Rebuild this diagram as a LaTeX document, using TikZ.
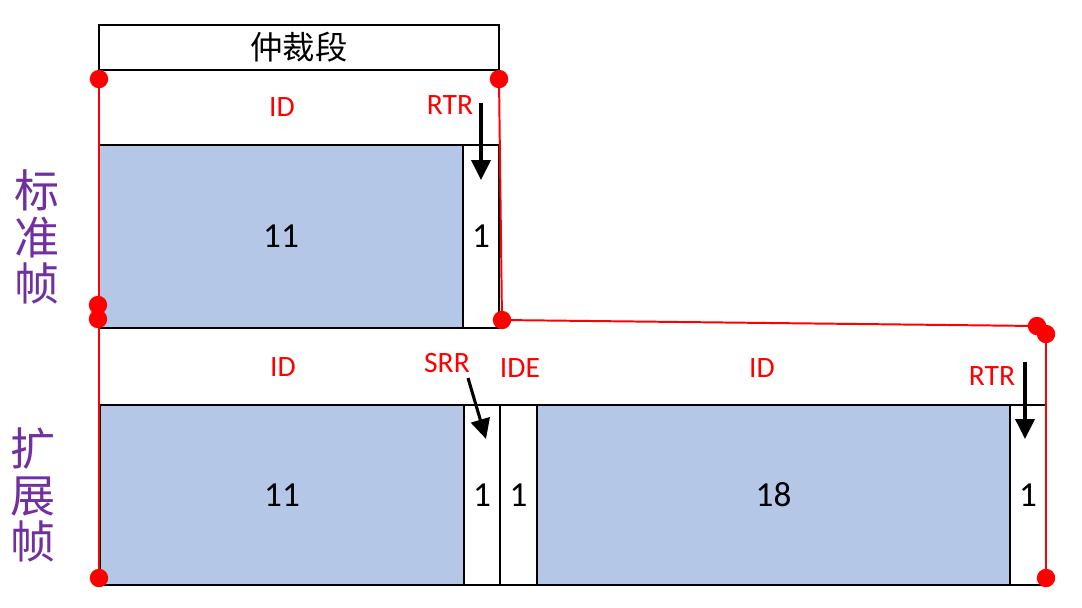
\documentclass[tikz,border=0pt]{standalone}
\usepackage{fontspec}
\setmainfont{Carlito}
\newfontfamily\cjk{Noto Sans CJK SC}
\usepackage{tikz}
\usetikzlibrary{positioning,arrows.meta}
\definecolor{fieldblue}{HTML}{B4C7E7}
\definecolor{markred}{HTML}{FF0000}
\definecolor{framepurple}{HTML}{7030A0}

\begin{document}
\begin{tikzpicture}[
  x=0.025cm, y=-0.025cm,
  >={Triangle[length=5mm,width=4.8mm]},
  stdcell/.style={draw=black, line width=2.1pt, inner sep=0pt, outer sep=0pt,
                  minimum width={#1*0.025cm}, minimum height={183*0.025cm},
                  font=\fontsize{25}{29}\selectfont},
  extcell/.style={draw=black, line width=2.1pt, inner sep=0pt, outer sep=0pt,
                  minimum width={#1*0.025cm}, minimum height={180*0.025cm},
                  font=\fontsize{25}{29}\selectfont},
  tagR/.style={text=markred, font=\fontsize{21}{24}\selectfont, inner sep=1pt},
  side/.style={text=framepurple, align=center, font=\cjk\fontsize{32}{33}\selectfont},
  dot/.style={circle, fill=markred, inner sep=0pt, minimum size=0.46cm},
  redln/.style={draw=markred, line width=1.4pt},
  ar/.style={->, draw=black, line width=2.2pt}
]
\useasboundingbox (0,0) rectangle (1082,607);

% ===== red outline =====
\coordinate (lA) at (99,79);
\coordinate (lB) at (98,305);
\coordinate (lC) at (98,319);
\coordinate (lD) at (99,578);
\coordinate (rA) at (499,79);
\coordinate (rB) at (502,320);
\coordinate (rC) at (1037,326);
\coordinate (rD) at (1046,334);
\coordinate (rE) at (1046,578);

% ===== arbitration field =====
\node[draw=black, line width=2.1pt, minimum width={400*0.025cm}, minimum height={45*0.025cm},
      font=\cjk\fontsize{23}{26}\selectfont] (arb) at (299,47.5) {仲裁段};

% ===== standard frame =====
\node[stdcell=364, fill=fieldblue] (s11) at (281,236.5) {11};
\node[stdcell=36, fill=white] (s1) at (481,236.5) {1};
\node[tagR] (sID) at (282,107) {ID};
\node[tagR] (sRTR) at (450,105) {RTR};
\coordinate (sRTRtop) at (481,103);
\coordinate (sRTRend) at (481,180);
\node[side] (stdname) at (37,237) {标\\准\\帧};

% ===== extended frame =====
\node[extcell=364, fill=fieldblue] (e11) at (282,495) {11};
\node[extcell=36, fill=white] (eS) at (482,495) {1};
\node[extcell=37, fill=white] (eI) at (518.5,495) {1};
\node[extcell=473, fill=fieldblue] (e18) at (773.5,495) {18};
\node[extcell=36, fill=white] (eR) at (1028,495) {1};
\node[tagR] (eID) at (283,367) {ID};
\node[tagR] (eSRR) at (447,363) {SRR};
\node[tagR] (eIDE) at (520,368) {IDE};
\node[tagR] (eID2) at (762,368) {ID};
\node[tagR] (eRTR) at (992,376) {RTR};
\coordinate (eSRRtop) at (468,378);
\coordinate (eSRRend) at (486,439);
\coordinate (eRTRtop) at (1025,362);
\coordinate (eRTRend) at (1025,439);
\node[side] (extname) at (33,495) {扩\\展\\帧};

% ===== red lines, dots and arrows on top =====
\draw[redln] (lA) -- (lD);
\draw[redln] (rA) -- (rB) -- (rC);
\draw[redln] (rD) -- (rE);
\foreach \p in {lA,lB,lC,lD,rA,rB,rC,rD,rE}
  \node[dot] (dot-\p) at (\p) {};
\draw[ar] (sRTRtop) -- (sRTRend);
\draw[ar] (eSRRtop) -- (eSRRend);
\draw[ar] (eRTRtop) -- (eRTRend);
\end{tikzpicture}
\end{document}
